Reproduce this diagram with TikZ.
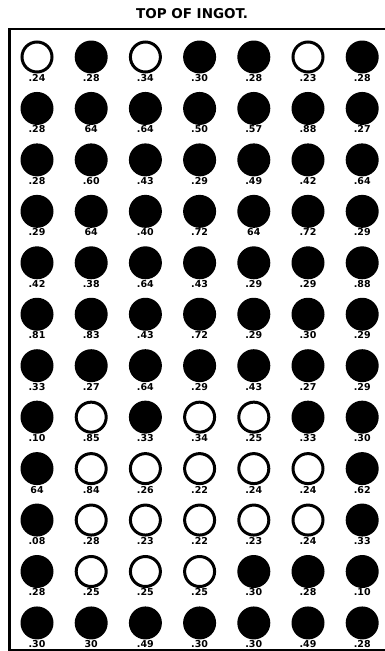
\documentclass[tikz,border=0pt]{standalone}
\usepackage{fontspec}
\setmainfont{DejaVu Sans}
\newcommand\ingotrow[2]{%
  \foreach \t/\l [count=\c] in {#2} {
    \pgfmathsetmacro\xx{37+(\c-1)*54.2}
    \pgfmathsetmacro\yy{57+(#1-1)*51.45}
    \node[style=\t] (c-#1-\c) at (\xx,\yy) {};
    \node[lbl] (l-#1-\c) at (\xx,\yy+21) {\l};
  }}
\begin{document}
\begin{tikzpicture}[x=1pt,y=-1pt,
  full/.style={circle,fill=black,draw=none,minimum size=33pt,inner sep=0pt},
  ring/.style={circle,draw=black,fill=white,line width=3pt,minimum size=30pt,inner sep=0pt},
  lbl/.style={font=\bfseries\fontsize{9.5}{10}\selectfont,inner sep=0pt},
  ttl/.style={font=\bfseries\fontsize{13.5}{14}\selectfont,inner sep=0pt},
  frame/.style={draw=black,line cap=rect}]
\useasboundingbox (0,0) rectangle (384,651);
\node[ttl] (title) at (192,14) {TOP OF INGOT.};
\coordinate (tl) at (9,29);
\coordinate (tr) at (384,29);
\coordinate (bl) at (9,650);
\coordinate (br) at (384,650);
\draw[frame,line width=1.8pt] (tl) -- (tr);
\draw[frame,line width=1.8pt] (bl) -- (br);
\draw[frame,line width=3pt] (tl) -- (bl);
\ingotrow{1}{ring/.24,full/.28,ring/.34,full/.30,full/.28,ring/.23,full/.28}
\ingotrow{2}{full/.28,full/64,full/.64,full/.50,full/.57,full/.88,full/.27}
\ingotrow{3}{full/.28,full/.60,full/.43,full/.29,full/.49,full/.42,full/.64}
\ingotrow{4}{full/.29,full/64,full/.40,full/.72,full/64,full/.72,full/.29}
\ingotrow{5}{full/.42,full/.38,full/.64,full/.43,full/.29,full/.29,full/.88}
\ingotrow{6}{full/.81,full/.83,full/.43,full/.72,full/.29,full/.30,full/.29}
\ingotrow{7}{full/.33,full/.27,full/.64,full/.29,full/.43,full/.27,full/.29}
\ingotrow{8}{full/.10,ring/.85,full/.33,ring/.34,ring/.25,full/.33,full/.30}
\ingotrow{9}{full/64,ring/.84,ring/.26,ring/.22,ring/.24,ring/.24,full/.62}
\ingotrow{10}{full/.08,ring/.28,ring/.23,ring/.22,ring/.23,ring/.24,full/.33}
\ingotrow{11}{full/.28,ring/.25,ring/.25,ring/.25,full/.30,full/.28,full/.10}
\ingotrow{12}{full/.30,full/30,full/.49,full/.30,full/.30,full/.49,full/.28}
\end{tikzpicture}
\end{document}
